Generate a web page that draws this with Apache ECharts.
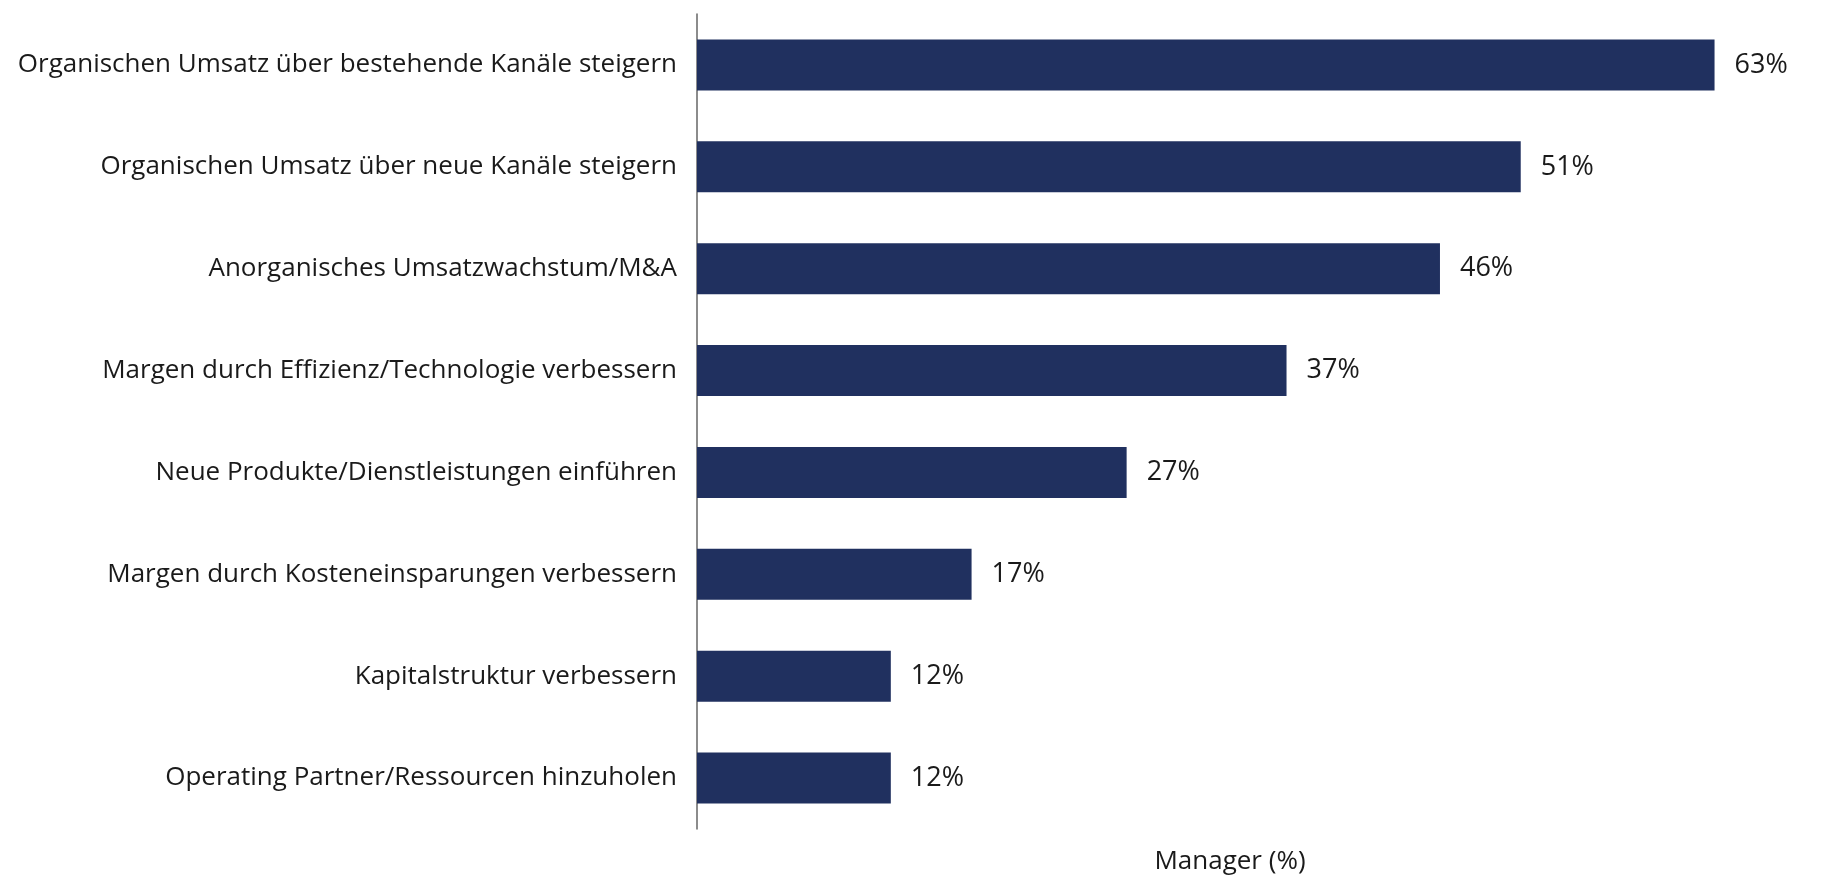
<!DOCTYPE html>
<html>
<head>
<meta charset="utf-8">
<script src="https://cdn.jsdelivr.net/npm/echarts@6/dist/echarts.min.js"></script>
<style>
html,body{margin:0;padding:0;background:#fff;}
#chart{width:1830px;height:880px;}
</style>
</head>
<body>
<div id="chart"></div>
<script>
const categories = [
  "Organischen Umsatz über bestehende Kanäle steigern",
  "Organischen Umsatz über neue Kanäle steigern",
  "Anorganisches Umsatzwachstum/M&A",
  "Margen durch Effizienz/Technologie verbessern",
  "Neue Produkte/Dienstleistungen einführen",
  "Margen durch Kosteneinsparungen verbessern",
  "Kapitalstruktur verbessern",
  "Operating Partner/Ressourcen hinzuholen"
];
const values = [63, 51, 46, 36.5, 26.6, 17, 12, 12];
const axisName = "Manager (%)";

const chart = echarts.init(document.getElementById('chart'));
const font = "'Open Sans', sans-serif";
chart.setOption({
  animation: false,
  grid: { left: 697, right: 67, top: 14, bottom: 47, containLabel: false },
  xAxis: {
    type: 'value', min: 0, max: 66,
    name: axisName, nameLocation: 'middle', nameGap: 20,
    nameTextStyle: { fontFamily: font, fontSize: 26, color: '#1a1a1a' },
    axisLine: { show: false }, axisTick: { show: false },
    axisLabel: { show: false }, splitLine: { show: false }
  },
  yAxis: {
    type: 'category', data: categories, inverse: true,
    axisLine: { show: true, lineStyle: { color: '#666', width: 1.5 } },
    axisTick: { show: false },
    axisLabel: { fontFamily: font, fontSize: 26, color: '#1a1a1a', margin: 20 }
  },
  series: [{
    type: 'bar', data: values, barWidth: 51,
    itemStyle: { color: '#20305f' },
    label: { show: true, position: 'right', distance: 20,
      formatter: p => Math.round(p.value) + '%',
      fontFamily: font, fontSize: 27, color: '#1a1a1a' }
  }]
});
</script>
</body>
</html>
